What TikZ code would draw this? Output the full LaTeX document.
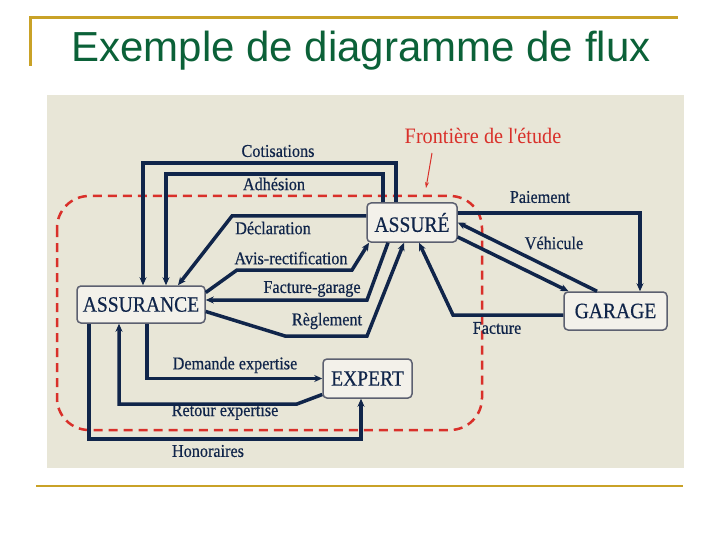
\documentclass[tikz,border=0pt]{standalone}
\usepackage{fontspec}
\setmainfont{Liberation Serif}
\newfontfamily\titlefont{Liberation Sans}
\newfontfamily\boxfont[FakeStretch=0.89,FakeBold=0.4]{Liberation Serif}
\newfontfamily\labfont[FakeStretch=0.9,FakeBold=0.5]{Liberation Serif}
\newfontfamily\redfont[FakeStretch=0.92]{Liberation Serif}
\usetikzlibrary{arrows.meta}
\definecolor{navy}{HTML}{10254A}
\definecolor{gold}{HTML}{C9A227}
\definecolor{titlegreen}{HTML}{0B6138}
\definecolor{paper}{HTML}{E8E6D7}
\definecolor{boxfill}{HTML}{F3F1EA}
\definecolor{boxline}{HTML}{5C6070}
\definecolor{bred}{HTML}{D9302A}
\tikzset{
  entity/.style={draw=boxline, fill=boxfill, line width=1.5pt, rounded corners=4pt,
    font=\boxfont\fontsize{22}{24}\selectfont, text=navy, inner sep=0pt},
  flow/.style={draw=navy, line width=3.5pt, -{Stealth[length=8pt,width=7pt]}},
  lab/.style={font=\labfont\fontsize{18}{20}\selectfont, text=navy, inner sep=0pt},
  boundary/.style={draw=bred, line width=2.5pt, dash pattern=on 9pt off 6pt, rounded corners=32pt},
}
\begin{document}
\begin{tikzpicture}[x=1pt,y=-1pt]
\useasboundingbox (0,0) rectangle (720,540);
\fill[white] (0,0) rectangle (720,540);
% title frame
\draw[gold, line width=3pt] (30,66) -- (30,18) -- (678,18);
\draw[gold, line width=2.5pt] (36,486) -- (683,486);
\node[font=\titlefont\fontsize{42}{46}\selectfont, text=titlegreen] (title) at (361,51) {Exemple de diagramme de flux};
% picture background
\fill[paper] (47,95) rectangle (684,468);
% boundary
\draw[boundary] (57,196) rectangle (482,430);
% entities
\node[entity, minimum width=128pt, minimum height=37pt] (assurance) at (141,304.5) {ASSURANCE};
\node[entity, minimum width=90pt, minimum height=39pt] (assure) at (412,222.5) {ASSURÉ};
\node[entity, minimum width=103pt, minimum height=38pt] (garage) at (615.5,311) {GARAGE};
\node[entity, minimum width=89pt, minimum height=39pt] (expert) at (367.5,378.5) {EXPERT};
% flows
\draw[flow] ([xshift=-16pt]assure.north) |- (143,163) -- ([xshift=2pt]assurance.north);
\draw[flow] ([xshift=-29pt]assure.north) |- (166,174) -- ([xshift=25pt]assurance.north);
\draw[flow] ([yshift=6.5pt]assure.west) -- (232,216) -- ([xshift=37pt]assurance.north);
\draw[flow] ([yshift=12pt]assurance.east) -- (237,270) -- (352,270) -- ([xshift=-43pt]assure.south);
\draw[flow] ([xshift=-24pt]assure.south) -- (367,300) -- ([yshift=4.5pt]assurance.east);
\draw[flow] ([yshift=-7pt]assurance.east) -- (285,336) -- (367,336) -- ([xshift=-8pt]assure.south);
\draw[flow] ([yshift=9.5pt]assure.east) -| ([xshift=24.5pt]garage.north);
\draw[flow] ([xshift=-18.5pt]garage.north) -- (assure.east);
\draw[flow] ([yshift=-14.5pt]assure.east) -- ([xshift=-47pt]garage.north);
\draw[flow] ([yshift=-4pt]garage.west) -- (453,315) -- ([xshift=7pt]assure.south);
\draw[flow] ([xshift=6pt]assurance.south) |- (expert.west);
\draw[flow] ([yshift=-16pt]expert.west) -- (297,404) -| ([xshift=-22pt]assurance.south);
\draw[flow] ([xshift=-52pt]assurance.south) |- (361,439) -- ([xshift=-6.5pt]expert.south);
% labels
\node[lab] (lcot) at (278,151) {Cotisations};
\node[lab] (ladh) at (274,184) {Adhésion};
\node[lab] (ldec) at (273,228) {Déclaration};
\node[lab] (lavis) at (291,258) {Avis-rectification};
\node[lab] (lfg) at (312,289) {Facture-garage};
\node[lab] (lreg) at (327,321) {Règlement};
\node[lab] (lpai) at (540,197) {Paiement};
\node[lab] (lveh) at (554,243) {Véhicule};
\node[lab] (lfac) at (497,328) {Facture};
\node[lab] (ldem) at (235,365) {Demande expertise};
\node[lab] (lret) at (225,412) {Retour expertise};
\node[lab] (lhon) at (208,451) {Honoraires};
% boundary label
\node[font=\redfont\fontsize{22}{24}\selectfont, text=bred, inner sep=0pt] (front) at (483,136) {Frontière de l'étude};
\coordinate (fronttip) at (426,188);
\draw[bred, line width=1pt, -{Stealth[length=6pt,width=4pt]}] (432,153) -- (fronttip);
\end{tikzpicture}
\end{document}
